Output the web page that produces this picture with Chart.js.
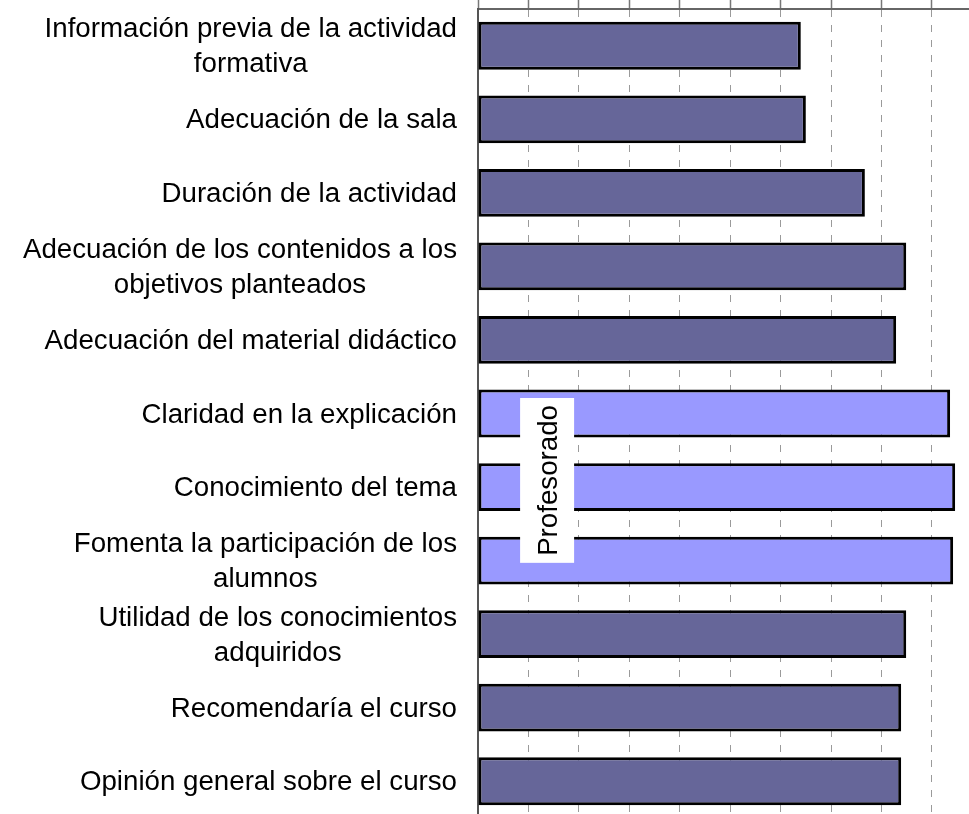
<!DOCTYPE html>
<html>
<head>
<meta charset="utf-8">
<script src="https://cdn.jsdelivr.net/npm/chart.js@4/dist/chart.umd.min.js"></script>
<style>
  html, body { margin: 0; padding: 0; background: #fff; overflow: hidden; }
  #frame { width: 969px; height: 814px; overflow: hidden; position: relative; }
  #wrap { width: 1000px; height: 830px; position: absolute; left: 0; top: 0; }
</style>
</head>
<body>
<div id="frame">
  <div id="wrap"><canvas id="chart"></canvas></div>
</div>
<script>
// categories (wrapped the same way as the original labels)
const categories = [
    ['Información previa de la actividad', 'formativa'],
    'Adecuación de la sala',
    'Duración de la actividad',
    ['Adecuación de los contenidos a los', 'objetivos planteados'],
    'Adecuación del material didáctico',
    'Claridad en la explicación',
    'Conocimiento del tema',
    ['Fomenta la participación de los', 'alumnos'],
    ['Utilidad de los conocimientos', 'adquiridos'],
    'Recomendaría el curso',
    'Opinión general sobre el curso'
];
const scores = [6.40, 6.50, 7.67, 8.49, 8.29, 9.36, 9.46, 9.42, 8.49, 8.39, 8.39];
const groups = ['curso', 'curso', 'curso', 'curso', 'curso',
    'profesorado', 'profesorado', 'profesorado',
    'curso', 'curso', 'curso'];
const groupLabel = 'Profesorado';
const axisMin = 0;
const axisMax = 10;

const FONT = '27.7px "Liberation Sans", Arial, sans-serif';

// category labels: block right aligned, lines centred inside the block
const labelPlugin = {
    id: 'wrappedLabels',
    afterDraw(chart) {
        const ctx = chart.ctx;
        const ys = chart.scales.y;
        const right = chart.chartArea.left - 21;
        const lineH = 35;
        ctx.save();
        ctx.font = FONT;
        ctx.fillStyle = '#000';
        ctx.textAlign = 'center';
        ctx.textBaseline = 'alphabetic';
        categories.forEach((lab, i) => {
            const lines = Array.isArray(lab) ? lab : [lab];
            const w = Math.max(...lines.map(l => ctx.measureText(l).width));
            const cx = right - w / 2;
            const cy = ys.getPixelForValue(i);
            const y0 = cy - (lines.length - 1) * lineH / 2 + 9;
            lines.forEach((l, j) => ctx.fillText(l, cx, y0 + j * lineH));
        });
        ctx.restore();
    }
};

// rotated group label in a white box
const groupPlugin = {
    id: 'groupLabel',
    afterDatasetsDraw(chart) {
        const ctx = chart.ctx;
        const xs = chart.scales.x, ys = chart.scales.y;
        const first = groups.indexOf('profesorado');
        const cx = xs.getPixelForValue(1.37);
        const cy = ys.getPixelForValue(first + 0.91);
        ctx.save();
        ctx.font = FONT;
        const w = ctx.measureText(groupLabel).width;
        ctx.fillStyle = '#fff';
        ctx.fillRect(cx - 27, cy - w / 2 - 7, 54, w + 14);
        ctx.translate(cx, cy);
        ctx.rotate(-Math.PI / 2);
        ctx.fillStyle = '#000';
        ctx.textAlign = 'center';
        ctx.textBaseline = 'alphabetic';
        ctx.fillText(groupLabel, 0, 10);
        ctx.restore();
    }
};

new Chart(document.getElementById('chart'), {
    type: 'bar',
    data: {
        labels: categories,
        datasets: [{
            data: scores,
            backgroundColor: groups.map(g => g === 'profesorado' ? '#9999FF' : '#666699'),
            borderColor: '#000',
            borderWidth: 3,
            borderSkipped: false,
            categoryPercentage: 1,
            barPercentage: 0.65
        }]
    },
    options: {
        indexAxis: 'y',
        responsive: true,
        maintainAspectRatio: false,
        animation: false,
        layout: { padding: { left: 478, right: 17.6, top: 0, bottom: 12 } },
        plugins: { legend: { display: false }, tooltip: { enabled: false } },
        scales: {
            x: {
                position: 'top',
                min: axisMin,
                max: axisMax,
                ticks: { display: false, stepSize: 1 },
                grid: {
                    color: '#9a9a9a',
                    lineWidth: 1,
                    tickLength: 9,
                    tickColor: '#777',
                    tickWidth: 1.5
                },
                border: { display: true, color: '#666', width: 2, dash: [7, 8] }
            },
            y: {
                ticks: { display: false },
                grid: { display: false, drawTicks: false },
                border: { display: true, color: '#555', width: 2 }
            }
        }
    },
    plugins: [labelPlugin, groupPlugin]
});
</script>
</body>
</html>
